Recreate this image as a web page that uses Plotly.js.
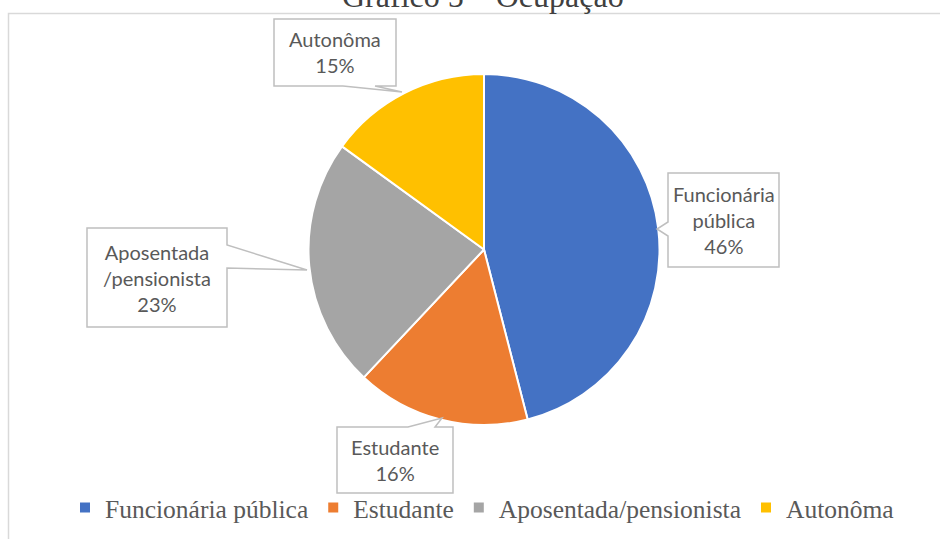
<!DOCTYPE html>
<html>
<head>
<meta charset="utf-8">
<script src="https://cdn.plot.ly/plotly-3.0.1.min.js"></script>
<style>
  html, body { margin: 0; padding: 0; background: #fff; }
  #chart { width: 940px; height: 539px; }
</style>
</head>
<body>
<div id="chart"></div>
<script>
// data
const categories = ["Funcionária pública", "Estudante", "Aposentada/pensionista", "Autonôma"];
const values = [46, 16, 23, 15];
const colors = ["#4472C4", "#ED7D31", "#A5A5A5", "#FFC000"];
const calloutText = ["Funcionária<br>pública<br>46%", "Estudante<br>16%", "Aposentada<br>/pensionista<br>23%", "Autonôma<br>15%"];

const W = 940, H = 539;
const px = x => x / W;
const py = y => 1 - y / H;

// callout boxes in pixels: [x0, y0, x1, y1], the edge the pointer leaves from, base of the pointer and its tip
const boxes = [
    { box: [668, 173, 779, 267], edge: "left", base: [222, 236], tip: [657, 229] },
    { box: [337, 427, 453, 493], edge: "top", base: [408, 435], tip: [442, 418] },
    { box: [87, 228, 227, 327], edge: "right", base: [245, 268], tip: [307, 270] },
    { box: [274, 19, 396, 86], edge: "bottom", base: [343, 375], tip: [402, 92] }
];

function calloutPath(c) {
    let [x0, y0, x1, y1] = c.box;
    let [b1, b2] = c.base;
    let [tx, ty] = c.tip;
    let pts;
    if (c.edge === "bottom") {
        pts = [[x0, y0], [x1, y0], [x1, y1], [b2, y1], [tx, ty], [b1, y1], [x0, y1]];
    } else if (c.edge === "top") {
        pts = [[x0, y0], [b1, y0], [tx, ty], [b2, y0], [x1, y0], [x1, y1], [x0, y1]];
    } else if (c.edge === "left") {
        pts = [[x0, y0], [x1, y0], [x1, y1], [x0, y1], [x0, b2], [tx, ty], [x0, b1]];
    } else {
        pts = [[x0, y0], [x1, y0], [x1, b1], [tx, ty], [x1, b2], [x1, y1], [x0, y1]];
    }
    return "M" + pts.map(p => px(p[0]).toFixed(5) + "," + py(p[1]).toFixed(5)).join(" L") + " Z";
}

let shapes = [
    // outer frame of the chart area
    {
        type: "rect", xref: "paper", yref: "paper",
        x0: px(8.5), x1: px(960), y0: py(13.5), y1: py(560),
        line: { color: "#D9D9D9", width: 1.5 }, fillcolor: "rgba(0,0,0,0)"
    }
];

let annotations = [
    {
        text: "Gráfico 5 – Ocupação", xref: "paper", yref: "paper",
        x: px(483), y: py(-4), xanchor: "center", yanchor: "middle", showarrow: false,
        font: { family: "Liberation Serif", size: 32, color: "#404040" }
    }
];

boxes.forEach((c, i) => {
    shapes.push({
        type: "path", xref: "paper", yref: "paper", path: calloutPath(c),
        line: { color: "#BFBFBF", width: 1.5 }, fillcolor: "#FFFFFF", layer: "above"
    });
    annotations.push({
        text: calloutText[i], xref: "paper", yref: "paper",
        x: px((c.box[0] + c.box[2]) / 2), y: py((c.box[1] + c.box[3]) / 2),
        xanchor: "center", yanchor: "middle", showarrow: false, align: "center",
        font: { family: "Lato", size: 20, color: "#595959" }
    });
});

let trace = {
    type: "pie",
    labels: categories,
    values: values,
    sort: false,
    direction: "clockwise",
    rotation: 0,
    textinfo: "none",
    hoverinfo: "label+percent",
    marker: { colors: colors, line: { color: "#FFFFFF", width: 2 } },
    domain: { x: [px(308), px(660)], y: [py(425), py(74)] }
};

let layout = {
    width: W, height: H,
    margin: { l: 0, r: 0, t: 0, b: 0 },
    paper_bgcolor: "#FFFFFF",
    showlegend: true,
    legend: {
        orientation: "h", x: px(482), xanchor: "center", y: py(508), yanchor: "middle",
        bgcolor: "rgba(0,0,0,0)",
        font: { family: "Liberation Serif", size: 25.5, color: "#595959" },
        itemwidth: 30
    },
    shapes: shapes,
    annotations: annotations
};

Plotly.newPlot("chart", [trace], layout, { displayModeBar: false, staticPlot: true });
</script>
</body>
</html>
